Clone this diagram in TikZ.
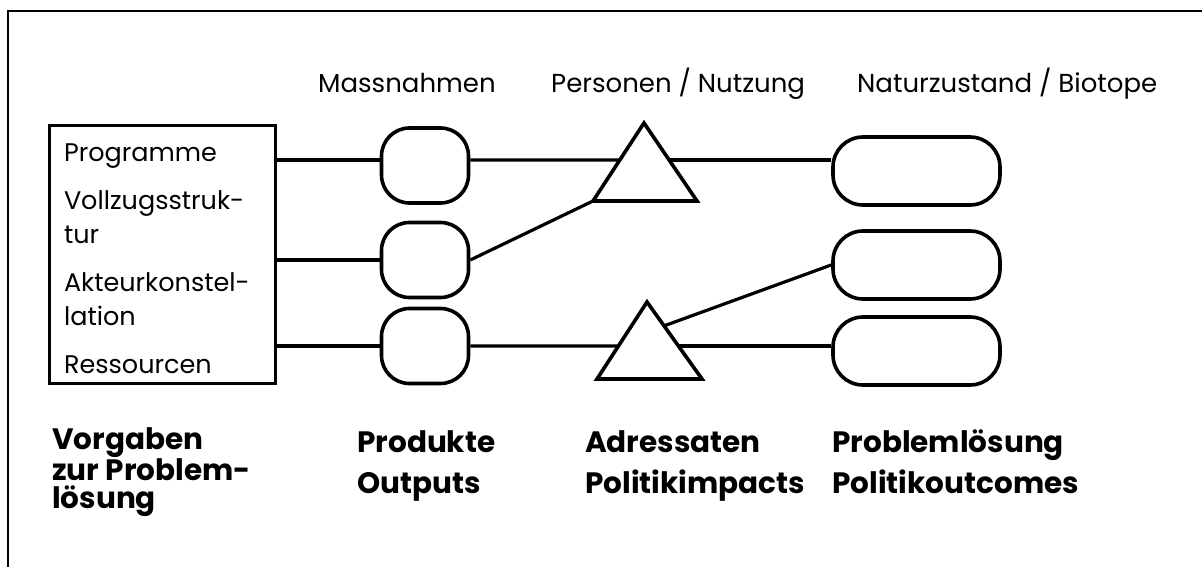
\documentclass[tikz,border=0pt]{standalone}
\usepackage{fontspec}
\setmainfont{Poppins}
\usetikzlibrary{positioning,calc}

\begin{document}
\begin{tikzpicture}[
    x=1pt, y=-1pt,
    vorgabe/.style={rectangle, draw, line width=3pt, minimum width=226pt, minimum height=257pt, text width=196pt, inner xsep=15pt, align=left, font=\fontsize{25.5}{34}\selectfont},
    massnahme/.style={rectangle, draw, line width=3.6pt, rounded corners=28pt, minimum width=87pt, minimum height=75pt},
    zustand/.style={rectangle, draw, line width=3.6pt, rounded corners=30pt, minimum width=167pt, minimum height=68pt},
    adressat/.style={draw, line width=3.6pt, line join=miter},
    link/.style={line width=3.2pt},
    titel/.style={anchor=base west, inner sep=0pt, font=\fontsize{26}{30}\selectfont},
    ebene/.style={anchor=base west, inner sep=0pt, align=left, font=\bfseries\fontsize{29.5}{41}\selectfont}
]
\useasboundingbox (0,0) rectangle (1202,567);

% Frame
\draw[line width=1.8pt] (8,567) -- (8,11) -- (1202,11);

% Column titles
\node[titel] (t-mass) at (318,93) {Massnahmen};
\node[titel] (t-pers) at (551,93) {Personen / Nutzung};
\node[titel] (t-natur) at (857,93) {Naturzustand / Biotope};

% Vorgaben box
\node[vorgabe] (vorg) at (162,254.5) {\rule{0pt}{27pt}Programme\\[14pt]
    Vollzugsstruk-\\tur\\[14pt]
    Akteurkonstel-\\lation\\[14pt]
    Ressourcen};

% Massnahmen
\node[massnahme] (mass1) at (425,165.5) {};
\node[massnahme] (mass2) at (425,260) {};
\node[massnahme] (mass3) at (425,346) {};

% Adressaten (triangles)
\coordinate (adr1t) at (644,123);
\coordinate (adr1l) at (593,201);
\coordinate (adr1r) at (697,201);
\coordinate (adr2t) at (647,302);
\coordinate (adr2l) at (597,379);
\coordinate (adr2r) at (702,379);
\draw[adressat] (adr1l) -- (adr1t) -- (adr1r) -- cycle;
\draw[adressat] (adr2l) -- (adr2t) -- (adr2r) -- cycle;

% Naturzustand
\node[zustand] (zust1) at (916.5,171) {};
\node[zustand] (zust2) at (916.5,265) {};
\node[zustand] (zust3) at (916.5,351) {};

% Links
\coordinate (row1) at (0,160);
\coordinate (adr1in) at ($(adr1l)!0.5256!(adr1t)$);
\coordinate (adr1out) at ($(adr1r)!0.5256!(adr1t)$);
\coordinate (adr2in) at ($(adr2l)!0.4286!(adr2t)$);
\coordinate (adr2out) at ($(adr2r)!0.4286!(adr2t)$);
\coordinate (adr2up) at ($(adr2t)!0.31!(adr2r)$);
\draw[link] (vorg.east |- row1) -- (mass1.west |- row1);
\draw[link] (mass1.east |- row1) -- (adr1in);
\draw[link] (adr1out) -- (adr1out -| zust1.west);
\draw[link] (vorg.east |- mass2.west) -- (mass2.west);
\draw[link] (mass2.east) -- (adr1l);
\draw[link] (vorg.east |- mass3.west) -- (mass3.west);
\draw[link] (mass3.east) -- (adr2in);
\draw[link] (adr2out) -- (adr2out -| zust3.west);
\draw[link] (adr2up) -- (zust2.west);

% Level labels (base = last line)
\node[ebene, font=\bfseries\fontsize{29.5}{28}\selectfont] (l-vorg) at (52,508) {Vorgaben\\zur Problem-\\lösung};
\node[ebene] (l-prod) at (357,493) {Produkte\\Outputs};
\node[ebene] (l-adr) at (585,493) {Adressaten\\Politikimpacts};
\node[ebene] (l-prob) at (832,493) {Problemlösung\\Politikoutcomes};

\end{tikzpicture}
\end{document}
